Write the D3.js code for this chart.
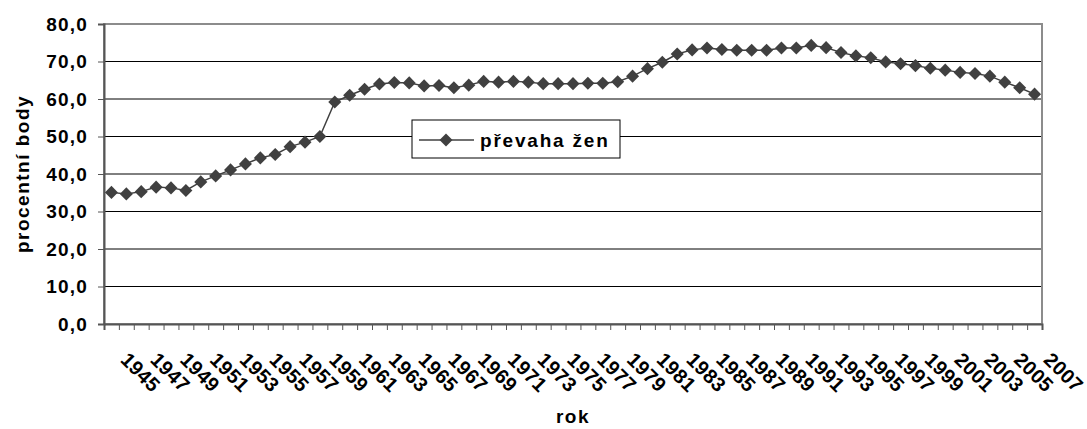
<!DOCTYPE html>
<html>
<head>
<meta charset="utf-8">
<script src="https://cdn.jsdelivr.net/npm/d3@7"></script>
<style>
  body { margin: 0; background: #fff; }
  text { font-family: "Liberation Sans", Arial, sans-serif; font-weight: bold; }
</style>
</head>
<body>
<div id="chart"></div>
<script>
// roky 1945 - 2007
var years = [1945, 1946, 1947, 1948, 1949, 1950, 1951, 1952, 1953, 1954,
    1955, 1956, 1957, 1958, 1959, 1960, 1961, 1962, 1963, 1964,
    1965, 1966, 1967, 1968, 1969, 1970, 1971, 1972, 1973, 1974,
    1975, 1976, 1977, 1978, 1979, 1980, 1981, 1982, 1983, 1984,
    1985, 1986, 1987, 1988, 1989, 1990, 1991, 1992, 1993, 1994,
    1995, 1996, 1997, 1998, 1999, 2000, 2001, 2002, 2003, 2004,
    2005, 2006, 2007];

// převaha žen (procentní body)
var prevaha = [35.1, 34.7, 35.3, 36.5, 36.3, 35.6, 37.9, 39.5, 41.1, 42.7,
    44.3, 45.2, 47.3, 48.5, 50.0, 59.2, 61.0, 62.6, 64.0, 64.4,
    64.3, 63.5, 63.6, 63.0, 63.7, 64.7, 64.5, 64.7, 64.5, 64.1,
    64.1, 64.1, 64.2, 64.2, 64.6, 66.1, 68.1, 69.8, 72.0, 73.1,
    73.6, 73.2, 73.0, 73.0, 73.0, 73.6, 73.6, 74.3, 73.7, 72.4,
    71.5, 71.0, 69.9, 69.4, 68.9, 68.2, 67.7, 67.1, 66.8, 66.1,
    64.5, 63.0, 61.3];

var yTicks = [0, 10, 20, 30, 40, 50, 60, 70, 80];
var seriesName = "převaha žen";

var width = 1087;
var height = 429;
var margin = { top: 24, right: 45, bottom: 105, left: 104 };

var svg = d3.select("#chart")
    .append("svg")
    .attr("width", width)
    .attr("height", height);

var x = d3.scaleBand()
    .domain(years)
    .range([margin.left, width - margin.right])
    .padding(0);

// hranice kategorií (pro značky na ose x)
var xEdge = d3.scaleLinear()
    .domain([0, years.length])
    .range([margin.left, width - margin.right]);

var y = d3.scaleLinear()
    .domain([0, 80])
    .range([height - margin.bottom, margin.top]);

var fmt = function(d) { return d3.format(".1f")(d).replace(".", ","); };

// mřížka
svg.append("g")
    .selectAll("line")
    .data(yTicks.filter(function(d) { return d > 0 && d < 80; }))
    .join("line")
    .attr("x1", margin.left)
    .attr("x2", width - margin.right)
    .attr("y1", function(d) { return y(d); })
    .attr("y2", function(d) { return y(d); })
    .attr("stroke", "#000")
    .attr("stroke-width", 1);

// rámeček plochy
svg.append("rect")
    .attr("x", margin.left)
    .attr("y", margin.top)
    .attr("width", width - margin.right - margin.left)
    .attr("height", height - margin.bottom - margin.top)
    .attr("fill", "none")
    .attr("stroke", "#8c8c8c")
    .attr("stroke-width", 2);

// osa y
var yAxis = svg.append("g")
    .attr("transform", "translate(" + margin.left + ",0)")
    .call(d3.axisLeft(y).tickValues(yTicks).tickSize(6).tickPadding(10).tickFormat(fmt));
yAxis.select(".domain").attr("stroke", "#555").attr("stroke-width", 2);
yAxis.selectAll(".tick line").attr("stroke", "#555");
yAxis.selectAll(".tick text")
    .attr("font-size", 19)
    .attr("font-family", "Liberation Sans, Arial, sans-serif")
    .attr("font-weight", "bold")
    .attr("letter-spacing", "1.2px")
    .attr("fill", "#000");

// osa x
var xAxis = svg.append("g")
    .attr("transform", "translate(0," + (height - margin.bottom) + ")")
    .call(d3.axisBottom(xEdge).tickValues(d3.range(years.length + 1)).tickSize(6).tickFormat(""));
xAxis.select(".domain").attr("stroke", "#555").attr("stroke-width", 2);
xAxis.selectAll(".tick line").attr("stroke", "#555");

// popisky let (každý druhý rok)
svg.append("g")
    .selectAll("text")
    .data(years.filter(function(d, i) { return i % 2 === 0; }))
    .join("text")
    .attr("transform", function(d) {
        return "translate(" + (x(d) + x.bandwidth() / 2 + 8) + "," + 361 + ") rotate(45)";
    })
    .attr("font-size", 20)
    .attr("letter-spacing", "0.3px")
    .attr("fill", "#000")
    .text(function(d) { return d; });

// čára
var line = d3.line()
    .x(function(d, i) { return x(years[i]) + x.bandwidth() / 2; })
    .y(function(d) { return y(d); });

svg.append("path")
    .datum(prevaha)
    .attr("fill", "none")
    .attr("stroke", "#404040")
    .attr("stroke-width", 1.5)
    .attr("d", line);

var diamond = d3.symbol().type(d3.symbolSquare).size(85);

svg.append("g")
    .selectAll("path")
    .data(prevaha)
    .join("path")
    .attr("transform", function(d, i) {
        return "translate(" + (x(years[i]) + x.bandwidth() / 2) + "," + y(d) + ") rotate(45)";
    })
    .attr("d", diamond)
    .attr("fill", "#404040");

// legenda
var legend = svg.append("g").attr("transform", "translate(412,120)");
legend.append("rect")
    .attr("width", 208)
    .attr("height", 38)
    .attr("fill", "#fff")
    .attr("stroke", "#000");
legend.append("line")
    .attr("x1", 7).attr("x2", 62)
    .attr("y1", 20).attr("y2", 20)
    .attr("stroke", "#404040")
    .attr("stroke-width", 1.5);
legend.append("path")
    .attr("transform", "translate(34,20) rotate(45)")
    .attr("d", diamond)
    .attr("fill", "#404040");
legend.append("text")
    .attr("x", 68)
    .attr("y", 27)
    .attr("font-size", 19)
    .attr("letter-spacing", "1.8px")
    .attr("fill", "#000")
    .text(seriesName);

// názvy os
svg.append("text")
    .attr("x", (margin.left + width - margin.right) / 2)
    .attr("y", 423)
    .attr("text-anchor", "middle")
    .attr("font-size", 19)
    .attr("letter-spacing", "1.5px")
    .text("rok");

svg.append("text")
    .attr("transform", "translate(29," + ((margin.top + height - margin.bottom) / 2) + ") rotate(-90)")
    .attr("text-anchor", "middle")
    .attr("font-size", 19)
    .attr("letter-spacing", "1.5px")
    .text("procentní body");
</script>
</body>
</html>
